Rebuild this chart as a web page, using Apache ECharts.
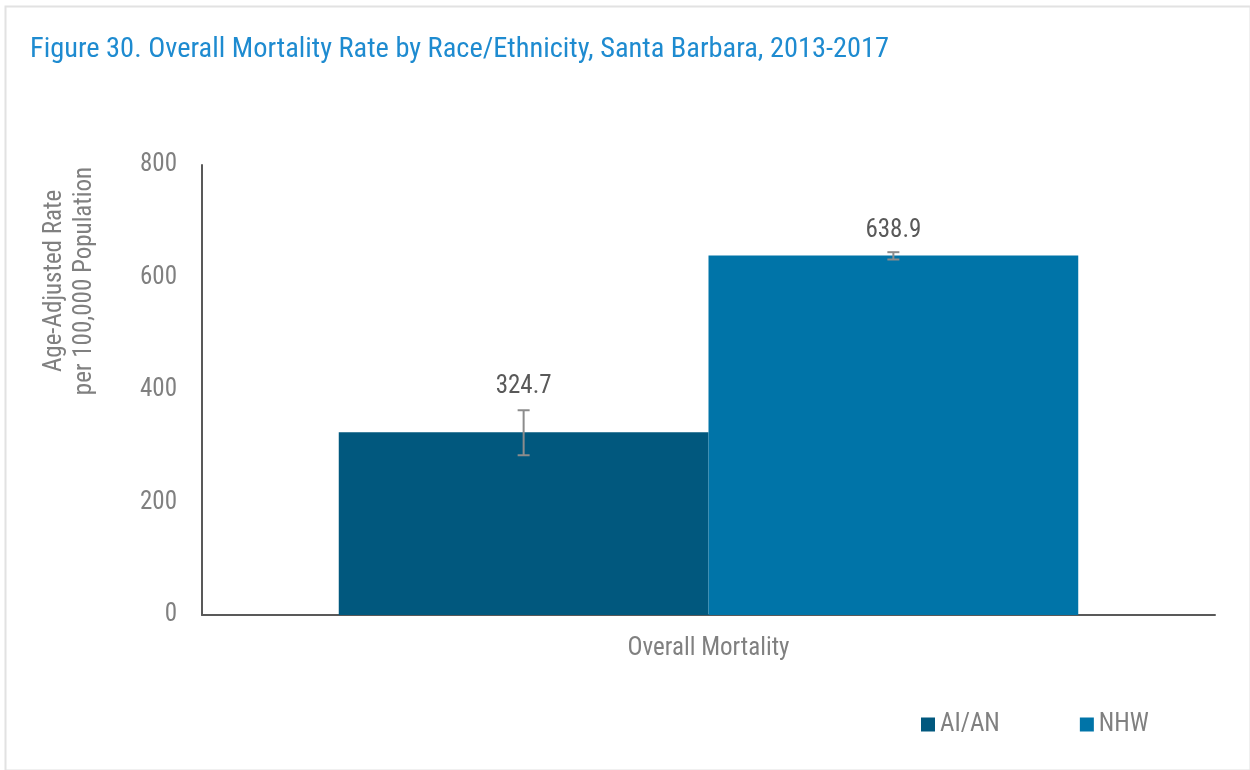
<!DOCTYPE html>
<html>
<head>
<meta charset="utf-8">
<script src="https://cdn.jsdelivr.net/npm/echarts@6/dist/echarts.min.js"></script>
<style>
html,body{margin:0;padding:0;background:#fff;}
#chart{width:1250px;height:770px;}
</style>
</head>
<body>
<div id="chart"></div>
<script>
const categories = ['Overall Mortality'];
const seriesNames = ['AI/AN', 'NHW'];
const aianValues = [324.7];
const nhwValues = [638.9];
const aianLower = [284];
const aianUpper = [364];
const nhwLower = [632];
const nhwUpper = [645];
const yTicks = [0, 200, 400, 600, 800];
const yAxisTitle = 'Age-Adjusted Rate\nper 100,000 Population';

const FONT = '"Liberation Sans Narrow", "Roboto Condensed", "Liberation Sans", sans-serif';
const GRAY = '#808080';
const chart = echarts.init(document.getElementById('chart'));

function errorBarSeries(name, lower, upper, barIndex, barCount) {
  return {
    type: 'custom',
    name: name + ' CI',
    z: 10,
    silent: true,
    tooltip: {show: false},
    data: lower.map((lo, i) => [i, lo, upper[i]]),
    renderItem: function (params, api) {
      const ci = api.value(0);
      const lo = api.coord([ci, api.value(1)]);
      const hi = api.coord([ci, api.value(2)]);
      const bandW = api.size([1, 0])[0];
      const barW = bandW * (1 - 0.27) / barCount;
      const start = lo[0] - barW * barCount / 2;
      const x = start + barW * (barIndex + 0.5);
      const cap = 6;
      const style = {stroke: '#8c8c8c', lineWidth: 2, fill: null};
      return {
        type: 'group',
        children: [
          {type: 'line', shape: {x1: x, y1: lo[1], x2: x, y2: hi[1]}, style: style},
          {type: 'line', shape: {x1: x - cap, y1: lo[1], x2: x + cap, y2: lo[1]}, style: style},
          {type: 'line', shape: {x1: x - cap, y1: hi[1], x2: x + cap, y2: hi[1]}, style: style}
        ]
      };
    }
  };
}

const option = {
  backgroundColor: '#fff',
  animation: false,
  title: {
    text: 'Figure 30. Overall Mortality Rate by Race/Ethnicity, Santa Barbara, 2013-2017',
    left: 25, top: 31,
    textStyle: {color: '#1e8bd0', fontFamily: FONT, fontSize: 28.4, fontWeight: 'normal'}
  },
  graphic: [
    {
      type: 'rect', left: 3, top: 4, silent: true, z: -10,
      shape: {width: 1245, height: 764},
      style: {fill: null, stroke: '#e2e2e2', lineWidth: 2}
    },
    {
      type: 'text', x: 70, y: 281, rotation: Math.PI / 2, silent: true,
      style: {
        text: yAxisTitle, fill: GRAY, font: '25px ' + FONT,
        align: 'center', verticalAlign: 'middle', lineHeight: 30
      }
    }
  ],
  legend: {
    data: seriesNames,
    left: 916, top: 707,
    itemWidth: 14, itemHeight: 14, itemGap: 80,
    icon: 'rect',
    textStyle: {color: GRAY, fontFamily: FONT, fontSize: 25}
  },
  grid: {left: 202, right: 35, top: 165, bottom: 155, containLabel: false},
  xAxis: {
    type: 'category',
    data: categories,
    axisLine: {lineStyle: {color: '#595959', width: 2}},
    axisTick: {show: false},
    axisLabel: {color: GRAY, fontFamily: FONT, fontSize: 25, margin: 21}
  },
  yAxis: {
    type: 'value',
    min: 0, max: 800, interval: 200,
    axisLine: {show: true, lineStyle: {color: '#595959', width: 2}},
    axisTick: {show: false},
    splitLine: {show: false},
    axisLabel: {
      color: GRAY, fontFamily: FONT, fontSize: 25, margin: 25,
      formatter: v => yTicks.includes(v) ? String(v) : ''
    }
  },
  series: [
    {
      name: seriesNames[0], type: 'bar', data: aianValues,
      barGap: '0%', barCategoryGap: '27%',
      itemStyle: {color: '#01587e'},
      label: {show: true, position: 'top', distance: 33, color: '#595959', fontFamily: FONT, fontSize: 25,
        formatter: p => p.value.toFixed(1)}
    },
    {
      name: seriesNames[1], type: 'bar', data: nhwValues,
      barGap: '0%', barCategoryGap: '27%',
      itemStyle: {color: '#0074a8'},
      label: {show: true, position: 'top', distance: 12, color: '#595959', fontFamily: FONT, fontSize: 25,
        formatter: p => p.value.toFixed(1)}
    },
    errorBarSeries(seriesNames[0], aianLower, aianUpper, 0, 2),
    errorBarSeries(seriesNames[1], nhwLower, nhwUpper, 1, 2)
  ]
};
chart.setOption(option);
</script>
</body>
</html>
